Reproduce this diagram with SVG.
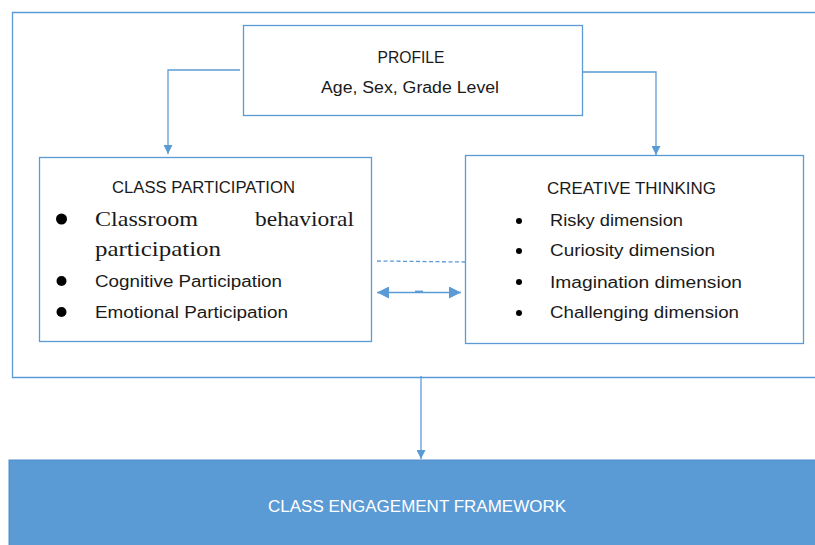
<svg xmlns="http://www.w3.org/2000/svg" width="815" height="545" viewBox="0 0 815 545">
  <defs>
    <marker id="tip" viewBox="0 0 10 10" refX="10" refY="5" markerWidth="9" markerHeight="9" markerUnits="userSpaceOnUse" orient="auto-start-reverse">
      <path d="M0,0 L10,5 L0,10 z" fill="#5B9BD5"/>
    </marker>
    <marker id="tipWide" viewBox="0 0 10 10" refX="10" refY="5" markerWidth="12" markerHeight="12" markerUnits="userSpaceOnUse" orient="auto-start-reverse">
      <path d="M0,0 L10,5 L0,10 z" fill="#5B9BD5"/>
    </marker>
  </defs>
  <style>
    .box { fill: #ffffff; stroke: #5B9BD5; stroke-width: 1.3; }
    .frame { fill: none; stroke: #5B9BD5; stroke-width: 1.3; }
    .link { fill: none; stroke: #5B9BD5; stroke-width: 1.3; }
    .sans { font-family: "Liberation Sans", "Open Sans", Arial, sans-serif; font-size: 16px; fill: #1a1a1a; }
    .serif { font-family: "Liberation Serif", "Times New Roman", serif; font-size: 22px; fill: #1a1a1a; }
    .dot { fill: #000000; }
    .white { fill: #ffffff; }
  </style>

  <rect width="815" height="545" fill="#ffffff"/>

  <!-- outer frame, open to the right -->
  <g id="frame">
    <path class="frame" d="M820,12.5 H12.5 V377.5 H820"/>
  </g>

  <!-- connectors -->
  <g id="connectors">
    <path class="link" d="M240,70 H168 V154" marker-end="url(#tip)"/>
    <path class="link" d="M583,72 H656 V155" marker-end="url(#tip)"/>
    <line class="link" x1="377" y1="261" x2="465" y2="262" stroke-dasharray="4,2.5" stroke-width="1"/>
    <line class="link" x1="377" y1="292.5" x2="461" y2="292.5" marker-start="url(#tipWide)" marker-end="url(#tipWide)"/>
    <line x1="415" y1="291.6" x2="423" y2="291.6" stroke="#5B9BD5" stroke-width="2"/>
    <path class="link" d="M421,376 V459" marker-end="url(#tip)"/>
  </g>

  <g id="profile">
    <rect class="box" x="243.5" y="25.5" width="339" height="90"/>
    <text class="sans" x="411" y="63" text-anchor="middle" textLength="67" lengthAdjust="spacingAndGlyphs">PROFILE</text>
    <text class="sans" x="410" y="93" text-anchor="middle" textLength="178" lengthAdjust="spacingAndGlyphs">Age, Sex, Grade Level</text>
  </g>

  <g id="class-participation">
    <rect class="box" x="39.5" y="157.5" width="332" height="184"/>
    <text class="sans" x="203.5" y="193" text-anchor="middle" textLength="183" lengthAdjust="spacingAndGlyphs">CLASS PARTICIPATION</text>
    <circle class="dot" cx="61.5" cy="219" r="5.5"/>
    <text class="serif" x="95" y="226" textLength="103" lengthAdjust="spacingAndGlyphs">Classroom</text>
    <text class="serif" x="354" y="226" text-anchor="end" textLength="99" lengthAdjust="spacingAndGlyphs">behavioral</text>
    <text class="serif" x="95" y="256" textLength="126" lengthAdjust="spacingAndGlyphs">participation</text>
    <circle class="dot" cx="61.5" cy="281" r="5"/>
    <text class="sans" x="95" y="287" textLength="187" lengthAdjust="spacingAndGlyphs">Cognitive Participation</text>
    <circle class="dot" cx="61.5" cy="312" r="5"/>
    <text class="sans" x="95" y="318" textLength="193" lengthAdjust="spacingAndGlyphs">Emotional Participation</text>
  </g>

  <g id="creative-thinking">
    <rect class="box" x="465.5" y="155.5" width="338" height="188"/>
    <text class="sans" x="631.5" y="194" text-anchor="middle" textLength="169" lengthAdjust="spacingAndGlyphs">CREATIVE THINKING</text>
    <circle class="dot" cx="519" cy="221" r="3"/>
    <text class="sans" x="550" y="226" textLength="133" lengthAdjust="spacingAndGlyphs">Risky dimension</text>
    <circle class="dot" cx="519" cy="251" r="3"/>
    <text class="sans" x="550" y="256" textLength="165" lengthAdjust="spacingAndGlyphs">Curiosity dimension</text>
    <circle class="dot" cx="519" cy="282" r="3"/>
    <text class="sans" x="550" y="288" textLength="192" lengthAdjust="spacingAndGlyphs">Imagination dimension</text>
    <circle class="dot" cx="519" cy="313" r="3"/>
    <text class="sans" x="550" y="318" textLength="189" lengthAdjust="spacingAndGlyphs">Challenging dimension</text>
  </g>

  <g id="class-engagement-framework">
    <rect x="9" y="460" width="810" height="90" fill="#5B9BD5" stroke="#4F8CC9" stroke-width="1"/>
    <text class="sans white" x="417" y="512" text-anchor="middle" textLength="298" lengthAdjust="spacingAndGlyphs">CLASS ENGAGEMENT FRAMEWORK</text>
  </g>
</svg>
